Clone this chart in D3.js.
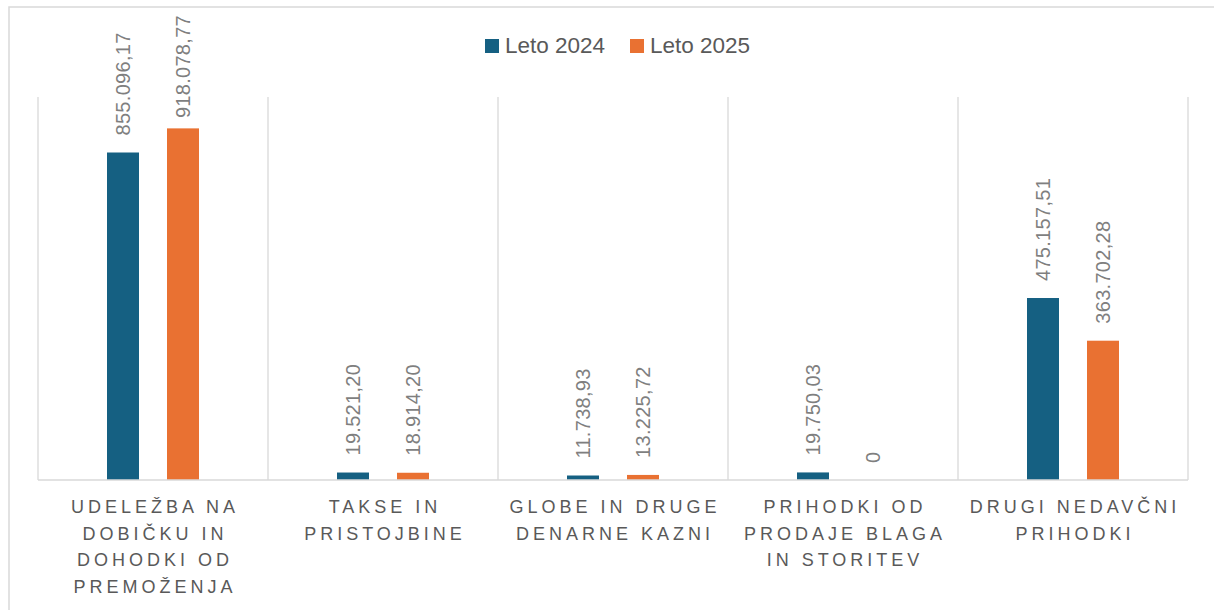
<!DOCTYPE html>
<html>
<head>
<meta charset="utf-8">
<script src="https://cdn.jsdelivr.net/npm/d3@7"></script>
<style>
  body { margin: 0; background: #fff; }
  svg { display: block; font-family: "Liberation Sans", Arial, sans-serif; }
</style>
</head>
<body>
<div id="chart"></div>
<script>
// chart data
const categories = [
    ["UDELEŽBA NA", "DOBIČKU IN", "DOHODKI OD", "PREMOŽENJA"],
    ["TAKSE IN", "PRISTOJBINE"],
    ["GLOBE IN DRUGE", "DENARNE KAZNI"],
    ["PRIHODKI OD", "PRODAJE BLAGA", "IN STORITEV"],
    ["DRUGI NEDAVČNI", "PRIHODKI"]
];
const seriesNames = ["Leto 2024", "Leto 2025"];
const values2024 = [855096.17, 19521.20, 11738.93, 19750.03, 475157.51];
const values2025 = [918078.77, 18914.20, 13225.72, 0, 363702.28];
const yMax = 1000000;

const colors = ["#156082", "#E97132"];

let width = 1214, height = 610;
let plot = {left: 38, right: 1188, top: 97, bottom: 480};

let svg = d3.select("#chart")
    .append("svg")
    .attr("width", width)
    .attr("height", height);

// outer chart border (right/bottom run off the page)
svg.append("rect")
    .attr("x", 9).attr("y", 7)
    .attr("width", 1230).attr("height", 640)
    .attr("fill", "none")
    .attr("stroke", "#d9d9d9")
    .attr("stroke-width", 1.5);

let catIdx = d3.range(categories.length);

let x0 = d3.scaleBand()
    .domain(catIdx)
    .range([plot.left, plot.right]);

let bw = x0.bandwidth();
let x1 = d3.scaleBand()
    .domain(seriesNames)
    .range([bw * 0.3, bw * 0.7])
    .paddingInner(0.4667);

let y = d3.scaleLinear()
    .domain([0, yMax])
    .range([plot.bottom, plot.top]);

// vertical category separators
svg.append("g")
    .selectAll("line")
    .data(d3.range(categories.length + 1))
    .join("line")
    .attr("x1", d => plot.left + d * bw)
    .attr("x2", d => plot.left + d * bw)
    .attr("y1", plot.top)
    .attr("y2", plot.bottom)
    .attr("stroke", "#d9d9d9")
    .attr("stroke-width", 1.3);

let rows = catIdx.map(i => ({
    cat: i,
    vals: [
        {key: seriesNames[0], value: values2024[i], color: colors[0]},
        {key: seriesNames[1], value: values2025[i], color: colors[1]}
    ]
}));

let groups = svg.append("g")
    .selectAll("g")
    .data(rows)
    .join("g")
    .attr("transform", d => `translate(${x0(d.cat)},0)`);

groups.selectAll("rect")
    .data(d => d.vals)
    .join("rect")
    .attr("x", d => x1(d.key))
    .attr("y", d => y(d.value))
    .attr("width", x1.bandwidth())
    .attr("height", d => y(0) - y(d.value))
    .attr("fill", d => d.color);

// baseline
svg.append("line")
    .attr("x1", plot.left).attr("x2", plot.right)
    .attr("y1", plot.bottom).attr("y2", plot.bottom)
    .attr("stroke", "#d9d9d9")
    .attr("stroke-width", 1.5);

// value labels
let sl = d3.formatLocale({decimal: ",", thousands: ".", grouping: [3], currency: ["", " €"]});
let fmt = sl.format(",.2f");

groups.selectAll("text.val")
    .data(d => d.vals)
    .join("text")
    .attr("class", "val")
    .text(d => d.value === 0 ? "0" : fmt(d.value))
    .attr("font-size", "20px")
    .attr("letter-spacing", "0.3px")
    .attr("fill", "#7f7f7f")
    .attr("dy", "0.35em")
    .each(function (d) {
        let len = this.getComputedTextLength();
        let cx = x1(d.key) + x1.bandwidth() / 2;
        let endY = Math.max(y(d.value) - 17, 15 + len);
        d3.select(this).attr("transform", `translate(${cx},${endY})rotate(-90)`);
    });

// category labels
let catG = svg.append("g")
    .selectAll("text")
    .data(rows)
    .join("text")
    .attr("text-anchor", "middle")
    .attr("font-size", "18px")
    .attr("letter-spacing", "4px")
    .attr("fill", "#595959");

catG.selectAll("tspan")
    .data(d => categories[d.cat].map(t => ({t, cat: d.cat})))
    .join("tspan")
    .attr("x", d => x0(d.cat) + bw / 2 + 2)
    .attr("y", (d, i) => 513 + i * 26.7)
    .text(d => d.t);

// legend
let legend = svg.append("g");
let legX = [485, 630];
seriesNames.forEach((s, i) => {
    legend.append("rect")
        .attr("x", legX[i]).attr("y", 39)
        .attr("width", 14).attr("height", 14)
        .attr("fill", colors[i]);
    legend.append("text")
        .attr("x", legX[i] + 20).attr("y", 53)
        .attr("font-size", "22.5px")
        .attr("fill", "#595959")
        .text(s);
});
</script>
</body>
</html>
